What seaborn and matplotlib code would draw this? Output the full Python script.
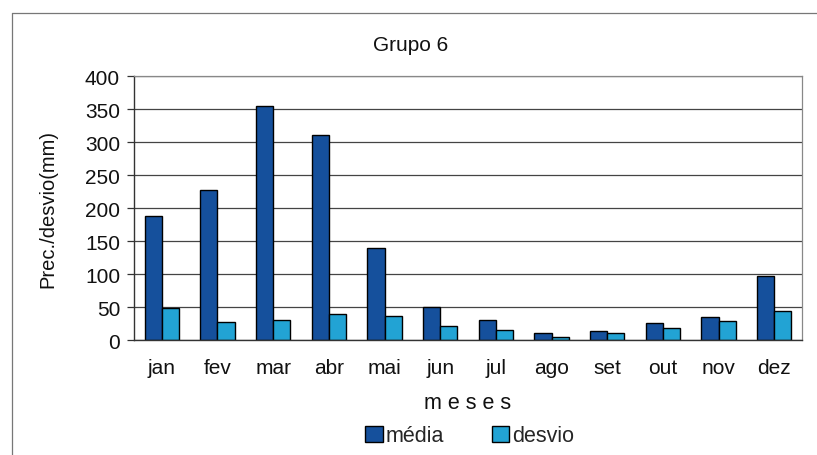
import matplotlib
matplotlib.use("Agg")
import matplotlib.pyplot as plt
import seaborn as sns
import pandas as pd
from matplotlib.ticker import MultipleLocator, FixedLocator
from matplotlib.patches import Patch

meses = ["jan", "fev", "mar", "abr", "mai", "jun", "jul", "ago", "set", "out", "nov", "dez"]
media = [188, 227, 354, 311, 139, 50, 31, 11, 14, 26, 35, 97]
desvio = [48, 28, 31, 40, 37, 21, 16, 4, 11, 19, 29, 44]
series = ["média", "desvio"]
cores = ["#15509c", "#22a3d4"]

df = pd.DataFrame({
    "mes": meses * 2,
    "valor": media + desvio,
    "serie": [series[0]] * len(meses) + [series[1]] * len(meses),
})

sns.set_theme(style="white")
plt.rcParams["font.family"] = ["Liberation Sans", "DejaVu Sans"]

fig = plt.figure(figsize=(8.17, 4.56), dpi=100)
ax = fig.add_axes([0.164, 0.252, 0.8177, 0.579])

sns.barplot(data=df, x="mes", y="valor", hue="serie", order=meses,
            hue_order=series, palette=cores, width=0.62, ax=ax,
            edgecolor="black", linewidth=1.0, legend=False, saturation=1)

ax.set_xlim(-0.5, len(meses) - 0.5)
ax.set_ylim(0, 400)
ax.yaxis.set_major_locator(MultipleLocator(50))
ax.grid(axis="y", color="#444444", linewidth=0.9)
ax.set_axisbelow(True)

# category ticks sit between the groups
ax.xaxis.set_major_locator(FixedLocator(range(len(meses))))
ax.xaxis.set_minor_locator(FixedLocator([i - 0.5 for i in range(len(meses) + 1)]))
ax.tick_params(axis="x", which="major", length=0, labelsize=15, pad=13, labelcolor="#111111")
ax.tick_params(axis="x", which="minor", length=5, width=0.9, color="#333333", direction="out")
ax.tick_params(axis="y", length=5, width=0.9, color="#333333", direction="out",
               labelsize=15, left=True, pad=5, labelcolor="#111111")

for side in ["left", "bottom"]:
    ax.spines[side].set_color("#333333")
    ax.spines[side].set_linewidth(1.0)
for side in ["top", "right"]:
    ax.spines[side].set_color("#888888")
    ax.spines[side].set_linewidth(0.9)
    ax.spines[side].set_visible(True)

ax.set_xlabel("m e s e s", fontsize=15.5, color="#111111", va="center")
ax.xaxis.set_label_coords(0.5, (341 - 403) / 264)
ax.set_ylabel("Prec./desvio(mm)", fontsize=14.5, color="#111111", va="center")
ax.yaxis.set_label_coords((48 - 134) / 668, 0.5)
fig.text(0.502, 0.901, "Grupo 6", ha="center", va="center", fontsize=15, color="#111111")

handles = [Patch(facecolor=c, edgecolor="black", linewidth=1.0, label=s)
           for c, s in zip(cores, series)]
fig.legend(handles=handles, loc="center", bbox_to_anchor=(0.575, 0.042), ncol=2,
           frameon=False, fontsize=15.5, handlelength=0.8, handleheight=0.8,
           handletextpad=0.15, columnspacing=2.2)

# chart frame
fig.add_artist(plt.Line2D([0.0147, 1.0], [0.969, 0.969], transform=fig.transFigure,
                          color="#777777", linewidth=0.9))
fig.add_artist(plt.Line2D([0.0147, 0.0147], [0.0, 0.969], transform=fig.transFigure,
                          color="#777777", linewidth=0.9))

fig.savefig("out.png", dpi=100, facecolor="white")
